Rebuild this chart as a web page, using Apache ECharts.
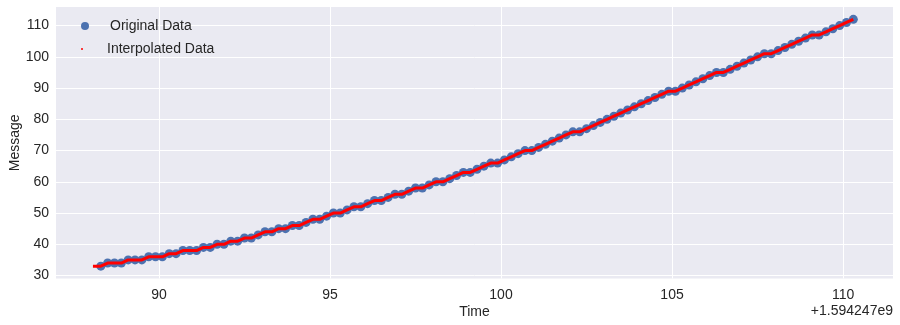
<!DOCTYPE html>
<html><head><meta charset="utf-8">
<script src="https://cdn.jsdelivr.net/npm/echarts@6/dist/echarts.min.js"></script>
<style>html,body{margin:0;padding:0;background:#fff}#c{width:900px;height:325px}</style>
</head><body><div id="c"></div>
<script>
// time offsets (seconds, +1.594247e9)
const times = [
 88.3,88.5,88.7,88.9,89.1,89.3,89.5,89.7,89.9,90.1,
 90.3,90.5,90.7,90.9,91.1,91.3,91.5,91.7,91.9,92.1,
 92.3,92.5,92.7,92.9,93.1,93.3,93.5,93.7,93.9,94.1,
 94.3,94.5,94.7,94.9,95.1,95.3,95.5,95.7,95.9,96.1,
 96.3,96.5,96.7,96.9,97.1,97.3,97.5,97.7,97.9,98.1,
 98.3,98.5,98.7,98.9,99.1,99.3,99.5,99.7,99.9,100.1,
 100.3,100.5,100.7,100.9,101.1,101.3,101.5,101.7,101.9,102.1,
 102.3,102.5,102.7,102.9,103.1,103.3,103.5,103.7,103.9,104.1,
 104.3,104.5,104.7,104.9,105.1,105.3,105.5,105.7,105.9,106.1,
 106.3,106.5,106.7,106.9,107.1,107.3,107.5,107.7,107.9,108.1,
 108.3,108.5,108.7,108.9,109.1,109.3,109.5,109.7,109.9,110.1,
 110.3
];
const messages = [
 33,34,34,34,35,35,35,36,36,36,37,37,38,38,38,39,39,
 40,40,41,41,42,42,43,44,44,45,45,46,46,47,48,48,49,50,
 50,51,52,52,53,54,54,55,56,56,57,58,58,59,60,60,61,62,
 63,63,64,65,66,66,67,68,69,70,70,71,72,73,74,75,76,76,77,
 78,79,80,81,82,83,84,85,86,87,88,89,89,90,91,92,93,94,
 95,95,96,97,98,99,100,101,101,102,103,104,105,106,107,107,108,109,110,111,112
];
// interpolated curve leads in slightly before first sample
const interpLeadTime = [88.07];
const interpLeadValue = [33];

const xTicks = [90, 95, 100, 105, 110];
const yTicks = [30, 40, 50, 60, 70, 80, 90, 100, 110];
const offsetText = '+1.594247e9';

const FONT = "'Liberation Sans', Arial, sans-serif";
const TXT = '#262626';

const orig = times.map((t, i) => [t, messages[i]]);
const interp = interpLeadTime.map((t, i) => [t, interpLeadValue[i]]).concat(orig);

const chart = echarts.init(document.getElementById('c'), null, {renderer: 'canvas'});
chart.setOption({
  animation: false,
  textStyle: {fontFamily: FONT, color: TXT},
  grid: {left: 56, right: 7, top: 7, bottom: 46.5, show: true, backgroundColor: '#EAEAF2', borderWidth: 0,
         containLabel: false, outerBoundsMode: 'none'},
  legend: [
    {data: [{name: 'Original Data', icon: 'circle'}], left: 76, top: 14, itemWidth: 40, itemHeight: 8,
     textStyle: {fontSize: 14, color: TXT, fontFamily: FONT}, selectedMode: false},
    {data: [{name: 'Interpolated Data', icon: 'circle'}], left: 76, top: 37, itemWidth: 40, itemHeight: 2,
     textStyle: {fontSize: 14, color: TXT, fontFamily: FONT}, selectedMode: false}
  ],
  xAxis: {
    type: 'value', min: 86.99, max: 111.46,
    name: 'Time', nameLocation: 'middle', nameGap: 27, nameMoveOverlap: false,
    nameTextStyle: {fontSize: 14, color: TXT, fontFamily: FONT},
    axisLine: {show: false}, axisTick: {show: false, customValues: xTicks},
    axisLabel: {customValues: xTicks, fontSize: 14, color: TXT, margin: 10, fontFamily: FONT},
    splitLine: {show: true, lineStyle: {color: '#ffffff', width: 1}}
  },
  yAxis: {
    type: 'value', min: 29.05, max: 115.95,
    name: 'Message', nameLocation: 'middle', nameGap: 34, nameMoveOverlap: false,
    nameTextStyle: {fontSize: 14, color: TXT, fontFamily: FONT},
    axisLine: {show: false}, axisTick: {show: false, customValues: yTicks},
    axisLabel: {customValues: yTicks, fontSize: 14, color: TXT, margin: 7, fontFamily: FONT},
    splitLine: {show: true, lineStyle: {color: '#ffffff', width: 1}}
  },
  graphic: [{type: 'text', right: 7, top: 304, style: {text: offsetText, fontSize: 14, fill: TXT, fontFamily: FONT}}],
  series: [
    {name: 'Original Data', type: 'scatter', data: orig, symbolSize: 9,
     itemStyle: {color: '#4C72B0', opacity: 1}, z: 2},
    {name: 'Interpolated Data', type: 'line', data: interp, showSymbol: false, symbol: 'circle',
     lineStyle: {color: '#ff0000', width: 3}, itemStyle: {color: '#ff0000'}, z: 3}
  ]
});
</script></body></html>
